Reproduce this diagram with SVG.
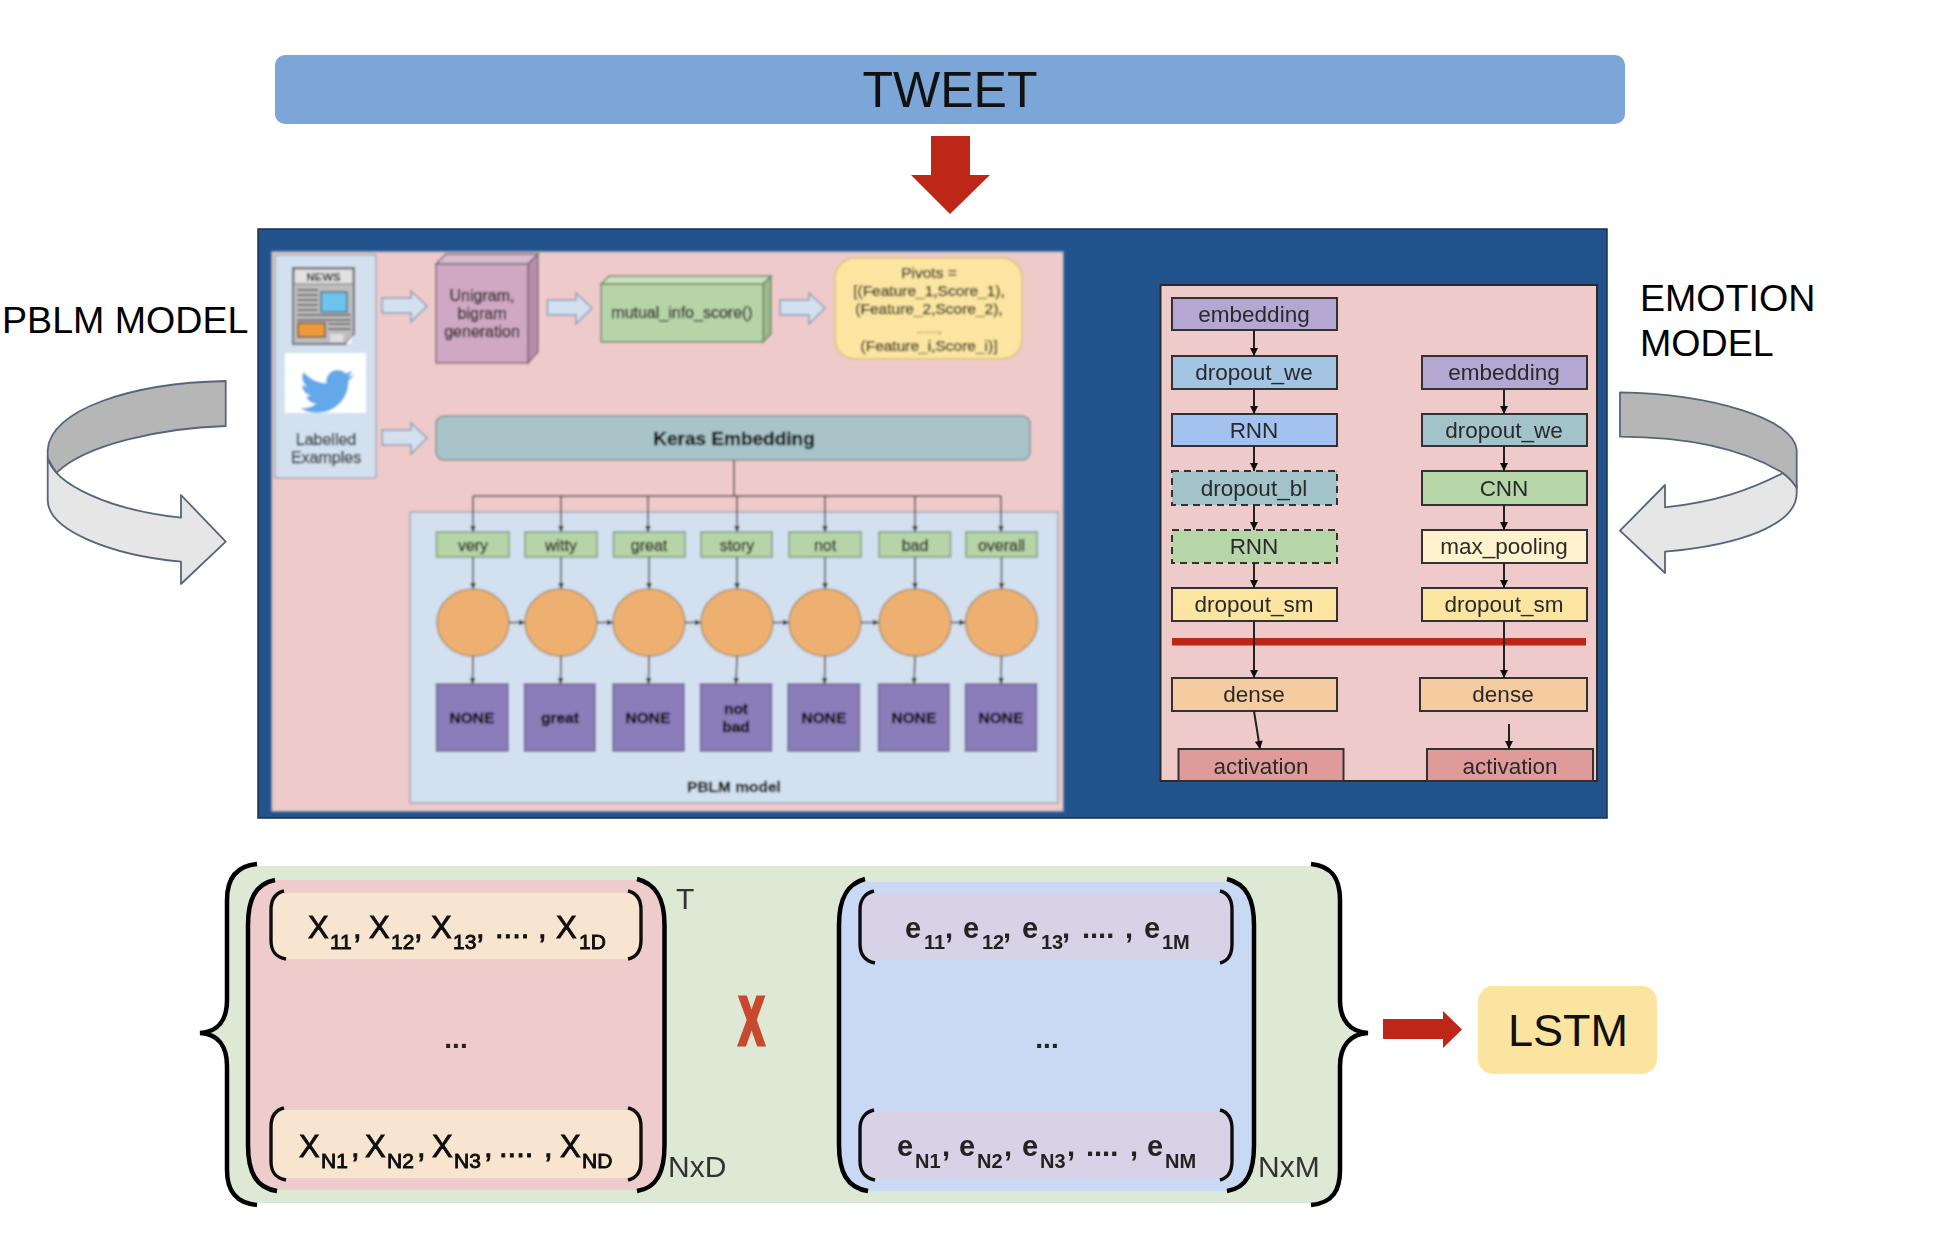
<svg xmlns="http://www.w3.org/2000/svg" width="1942" height="1242" viewBox="0 0 1942 1242">
<style>
text{font-family:"Liberation Sans",Arial,sans-serif;fill:#2c2c2c}
.c{text-anchor:middle}
.b{font-weight:700}
.big{font-size:37.6px;fill:#000}
.t16{font-size:16px;fill:#111;stroke:#111;stroke-width:.25}
.t15{font-size:15.5px;fill:#111;stroke:#111;stroke-width:.25}
.pur{font-size:15.5px;font-weight:700;fill:#000;stroke:#000;stroke-width:.3}
.flow{font-size:22.5px;fill:#2a2a2a}
.blk{fill:#d3e0f0;stroke:#8a9ab0;stroke-width:1.5}
.wbox{fill:#b7d4a8;stroke:#7f9a7a;stroke-width:1.5}
.circ{fill:#edb06f;stroke:#a8906e;stroke-width:1.5}
.pbox{fill:#8b7cba;stroke:#6a6590;stroke-width:1.5}
.fb{stroke:#333;stroke-width:2}
.dash{stroke-dasharray:7 5}
.ln{fill:none;stroke:#444;stroke-width:1.5}
.ar{fill:none;stroke:#222;stroke-width:2}
.paren{fill:none;stroke:#000;stroke-width:4.5}
.paren3{fill:none;stroke:#111;stroke-width:3.4}
.band{stroke:#56657c;stroke-width:1.8;stroke-linejoin:round}
.mx{font-size:31px;fill:#111;stroke:#111;stroke-width:.9}
.mx .s{font-size:21px}
.me{font-size:29px;font-weight:700;fill:#222}
.me .s{font-size:20px}
.dim{font-size:30px;fill:#333}
</style>
<defs>
<marker id="a1" markerUnits="userSpaceOnUse" markerWidth="8" markerHeight="8" refX="7" refY="4" orient="auto"><path d="M1,1 L7,4 L1,7 Z" fill="#333"/></marker>
<marker id="a2" markerUnits="userSpaceOnUse" markerWidth="10" markerHeight="10" refX="9" refY="5" orient="auto"><path d="M1,1 L9,5 L1,9 Z" fill="#111"/></marker>
<filter id="soft" x="-2%" y="-2%" width="104%" height="104%"><feGaussianBlur stdDeviation="0.8"/></filter>
<filter id="soft2" x="-2%" y="-2%" width="104%" height="104%"><feGaussianBlur stdDeviation="0.6"/></filter>
<filter id="soft3" x="-2%" y="-2%" width="104%" height="104%"><feGaussianBlur stdDeviation="0.4"/></filter>
</defs>
<rect width="1942" height="1242" fill="#fff"/>

<g id="tweet">
<rect x="275" y="55" width="1350" height="69" rx="10" fill="#7ca6d8"/>
<text class="c" x="950" y="107" font-size="50" style="fill:#111">TWEET</text>
</g>
<g id="tweet-arrow"><polygon points="931,136 970,136 970,175 990,175 950,214 911,175 931,175" fill="#bd2718"/></g>

<g id="pblm-label"><text class="big" x="2" y="333">PBLM MODEL</text></g>
<g id="emotion-label"><text class="big" x="1640" y="311">EMOTION</text><text class="big" x="1640" y="356">MODEL</text></g>

<g id="curved-left">
<path class="band" fill="#e6e6e6" d="M47.7,458 C55,485 110,510 181,517.7 L181,495 L225.7,541.7 L181,584 L181,561.7 C110,555 47.7,530 47.7,500 Z"/>
<path class="band" fill="#b6b6b6" d="M225.7,381 C130,383 50,410 47.7,450 L47.7,458 C50,463 53,468 56.7,472.7 C85,445 160,428 225.7,426 Z"/>
</g>
<g id="curved-right">
<path class="band" fill="#e6e6e6" d="M1783,473 C1750,490 1715,502 1665,507.3 L1665,485 L1620,530.7 L1665,573 L1665,551.7 C1740,545 1796.7,525 1796.7,493 L1796.7,486 C1793,481 1788,477 1783,473 Z"/>
<path class="band" fill="#b6b6b6" d="M1620,392.3 C1710,394 1794,418 1796.7,450 L1796.7,488 C1793,482 1788,477 1783,473 C1745,450 1690,437 1620,436.7 Z"/>
</g>

<g id="main-panel">
<rect x="258" y="229" width="1349" height="589" fill="#22538d" stroke="#1d3148" stroke-width="1.5"/>
</g>

<g id="pblm-diagram" filter="url(#soft)">
<g id="pblm-bg"><rect x="272" y="252" width="791" height="559" fill="#eecbca" stroke="#b9b4bc" stroke-width="1.5"/></g>
<g id="examples">
<rect x="275" y="255" width="101" height="223" fill="#d3e0f0" stroke="#a0aab8" stroke-width="1.5"/>
<path d="M293,268 H354 V334 L346,344 H293 Z" fill="#bdbdbd" stroke="#6a6a6a" stroke-width="2"/>
<rect x="294" y="269" width="59" height="15" fill="#e2e2e2" stroke="#777"/>
<text class="c b" x="323.500" y="281" font-size="11.500" style="fill:#222">NEWS</text>
<path d="M297,290 H318 M297,295 H318 M297,300 H318 M297,305 H318 M297,310 H318 M297,315 H351 M297,320 H351 M328,324 H351 M328,329 H351" stroke="#707070" stroke-width="2" fill="none"/>
<rect x="321" y="292" width="26" height="20" fill="#6cc4ef" stroke="#4f6f80" stroke-width="1.500"/>
<rect x="298" y="323" width="27" height="14" fill="#ee9a3a" stroke="#6a5a40" stroke-width="1.500"/>
<polygon points="330,334 344,334 343,342 330,342" fill="#dedede"/>
<polygon points="346,344 354,334 350,344" fill="#fff"/>
<rect x="285" y="353" width="81" height="60" fill="#fff"/>
<path transform="translate(300,365) scale(2.25,2.2)" fill="#64a8e8" d="M23.953 4.57a10 10 0 01-2.825.775 4.958 4.958 0 002.163-2.723c-.951.555-2.005.959-3.127 1.184a4.92 4.92 0 00-8.384 4.482C7.69 8.095 4.067 6.13 1.64 3.162a4.822 4.822 0 00-.666 2.475c0 1.71.87 3.213 2.188 4.096a4.904 4.904 0 01-2.228-.616v.06a4.923 4.923 0 003.946 4.827 4.996 4.996 0 01-2.212.085 4.936 4.936 0 004.604 3.417 9.867 9.867 0 01-6.102 2.105c-.39 0-.779-.023-1.17-.067a13.995 13.995 0 007.557 2.209c9.053 0 13.998-7.496 13.998-13.985 0-.21 0-.42-.015-.63A9.935 9.935 0 0024 4.59z"/>
<text class="c t16" x="326" y="445">Labelled</text>
<text class="c t16" x="326" y="463">Examples</text>
</g>
<g id="block-arrows">
<polygon class="blk" points="382,298 411,298 411,291 427,306 411,322 411,313 382,313"/>
<polygon class="blk" points="547.5,300 576,300 576,293 592,308 576,324 576,315 547.5,315"/>
<polygon class="blk" points="780,300 809,300 809,293 825,308 809,324 809,315 780,315"/>
<polygon class="blk" points="382,430 411,430 411,423 427,438 411,454 411,445 382,445"/>
</g>
<g id="unigram">
<polygon points="436,264 446,254 538,254 528,264" fill="#dbb9d0" stroke="#7a6a75" stroke-width="1.5"/>
<polygon points="528,264 538,254 538,352 528,363" fill="#b98dac" stroke="#7a6a75" stroke-width="1.5"/>
<rect x="436" y="264" width="92" height="99" fill="#cfa8c3" stroke="#7a6a75" stroke-width="1.5"/>
<text class="c t16" x="482" y="301">Unigram,</text><text class="c t16" x="482" y="319">bigram</text><text class="c t16" x="482" y="337">generation</text>
</g>
<g id="mutual-info">
<polygon points="601,284 609,276 771,276 763,284" fill="#c9e0bb" stroke="#6f8a6a" stroke-width="1.5"/>
<polygon points="763,284 771,276 771,334 763,342" fill="#9ab98c" stroke="#6f8a6a" stroke-width="1.5"/>
<rect x="601" y="284" width="162" height="58" fill="#b7d4a8" stroke="#6f8a6a" stroke-width="1.5"/>
<text class="c t16" x="682" y="318">mutual_info_score()</text>
</g>
<g id="pivots">
<rect x="835" y="258" width="187" height="101" rx="20" fill="#fce5a0" stroke="#d8c27a" stroke-width="1.5"/>
<text class="c t15" x="929" y="278">Pivots =</text>
<text class="c t15" x="929" y="296">[(Feature_1,Score_1),</text>
<text class="c t15" x="929" y="314">(Feature_2,Score_2),</text>
<text class="c" x="929" y="333" font-size="11" style="fill:#111">.......,</text>
<text class="c t15" x="929" y="351">(Feature_i,Score_i)]</text>
</g>
<g id="keras">
<rect x="436" y="416" width="594" height="44" rx="8" fill="#a9c4c9" stroke="#7d9097" stroke-width="1.5"/>
<text class="c b" x="734" y="445" font-size="19" style="fill:#000;stroke:#000;stroke-width:.3">Keras Embedding</text>
</g>
<g id="pblm-model">
<rect x="410" y="512" width="648" height="291" fill="#d3e0f0" stroke="#a0a6ae" stroke-width="1.5"/>
<text class="c b" x="734" y="792" font-size="15.500" style="fill:#000;stroke:#000;stroke-width:.3">PBLM model</text>
</g>
<g id="w-very"><rect class="wbox" x="436.5" y="532" width="72.500" height="25"/><text class="c t16" x="473" y="551">very</text></g>
<g id="w-witty"><rect class="wbox" x="525" y="532" width="72" height="25"/><text class="c t16" x="561" y="551">witty</text></g>
<g id="w-great"><rect class="wbox" x="613.5" y="532" width="71.500" height="25"/><text class="c t16" x="649" y="551">great</text></g>
<g id="w-story"><rect class="wbox" x="701" y="532" width="71" height="25"/><text class="c t16" x="737" y="551">story</text></g>
<g id="w-not"><rect class="wbox" x="789" y="532" width="72" height="25"/><text class="c t16" x="825" y="551">not</text></g>
<g id="w-bad"><rect class="wbox" x="879" y="532" width="71.500" height="25"/><text class="c t16" x="915" y="551">bad</text></g>
<g id="w-overall"><rect class="wbox" x="966" y="532" width="71" height="25"/><text class="c t16" x="1001.5" y="551">overall</text></g>
<g id="lstm-cell-1"><ellipse class="circ" cx="473" cy="622.500" rx="36" ry="33.500"/></g>
<g id="lstm-cell-2"><ellipse class="circ" cx="561" cy="622.500" rx="36" ry="33.500"/></g>
<g id="lstm-cell-3"><ellipse class="circ" cx="649" cy="622.500" rx="36" ry="33.500"/></g>
<g id="lstm-cell-4"><ellipse class="circ" cx="737" cy="622.500" rx="36" ry="33.500"/></g>
<g id="lstm-cell-5"><ellipse class="circ" cx="825" cy="622.500" rx="36" ry="33.500"/></g>
<g id="lstm-cell-6"><ellipse class="circ" cx="915" cy="622.500" rx="36" ry="33.500"/></g>
<g id="lstm-cell-7"><ellipse class="circ" cx="1001.500" cy="622.500" rx="36" ry="33.500"/></g>
<g id="o-1"><rect class="pbox" x="436.5" y="684" width="71.500" height="67"/><text class="c pur" x="472" y="723">NONE</text></g>
<g id="o-2"><rect class="pbox" x="524.5" y="684" width="70.500" height="67"/><text class="c pur" x="560" y="723">great</text></g>
<g id="o-3"><rect class="pbox" x="613" y="684" width="71" height="67"/><text class="c pur" x="648" y="723">NONE</text></g>
<g id="o-4"><rect class="pbox" x="700.5" y="684" width="71" height="67"/><text class="c pur" x="736" y="714">not</text><text class="c pur" x="736" y="732">bad</text></g>
<g id="o-5"><rect class="pbox" x="788" y="684" width="71.500" height="67"/><text class="c pur" x="824" y="723">NONE</text></g>
<g id="o-6"><rect class="pbox" x="878.5" y="684" width="70.500" height="67"/><text class="c pur" x="914" y="723">NONE</text></g>
<g id="o-7"><rect class="pbox" x="965.500" y="684" width="71" height="67"/><text class="c pur" x="1001" y="723">NONE</text></g>
<g id="pblm-connectors">
<path class="ln" d="M734,460 V496 M473,496 H1001"/>
<path class="ln" marker-end="url(#a1)" d="M473,496 V532"/><path class="ln" marker-end="url(#a1)" d="M561,496 V532"/><path class="ln" marker-end="url(#a1)" d="M648,496 V532"/><path class="ln" marker-end="url(#a1)" d="M737,496 V532"/><path class="ln" marker-end="url(#a1)" d="M825,496 V532"/><path class="ln" marker-end="url(#a1)" d="M915,496 V532"/><path class="ln" marker-end="url(#a1)" d="M1001,496 V532"/>
<path class="ln" marker-end="url(#a1)" d="M473,557 V589"/><path class="ln" marker-end="url(#a1)" d="M561,557 V589"/><path class="ln" marker-end="url(#a1)" d="M649,557 V589"/><path class="ln" marker-end="url(#a1)" d="M737,557 V589"/><path class="ln" marker-end="url(#a1)" d="M825,557 V589"/><path class="ln" marker-end="url(#a1)" d="M915,557 V589"/><path class="ln" marker-end="url(#a1)" d="M1001.500,557 V589"/>
<path class="ln" marker-end="url(#a1)" d="M473,656 L472.500,684"/><path class="ln" marker-end="url(#a1)" d="M561,656 L560.500,684"/><path class="ln" marker-end="url(#a1)" d="M649,656 L648.500,684"/><path class="ln" marker-end="url(#a1)" d="M737,656 L736,684"/><path class="ln" marker-end="url(#a1)" d="M825,656 L824.500,684"/><path class="ln" marker-end="url(#a1)" d="M915,656 L914,684"/><path class="ln" marker-end="url(#a1)" d="M1001.500,656 L1001,684"/>
<path class="ln" marker-end="url(#a1)" d="M509,622.500 H525"/><path class="ln" marker-end="url(#a1)" d="M597,622.500 H613"/><path class="ln" marker-end="url(#a1)" d="M685,622.500 H701"/><path class="ln" marker-end="url(#a1)" d="M773,622.500 H789"/><path class="ln" marker-end="url(#a1)" d="M861,622.500 H879"/><path class="ln" marker-end="url(#a1)" d="M951,622.500 H965.500"/>
</g>
</g>

<g id="emotion-diagram" filter="url(#soft2)">
<g id="emotion-bg"><rect x="1160.500" y="285" width="436.500" height="496" fill="#eecbca" stroke="#2c2c2c" stroke-width="2"/></g>
<g id="e-embedding"><rect class="fb" x="1172" y="298" width="165" height="32" fill="#b4a7d1"/><text class="c flow" x="1254" y="322">embedding</text></g>
<g id="e-dropout-we"><rect class="fb" x="1172" y="356" width="165" height="33" fill="#a3c4e3"/><text class="c flow" x="1254" y="380">dropout_we</text></g>
<g id="e-rnn"><rect class="fb" x="1172" y="414" width="165" height="32" fill="#a4c2ef"/><text class="c flow" x="1254" y="438">RNN</text></g>
<g id="e-dropout-bl"><rect class="fb dash" x="1172" y="471" width="165" height="34" fill="#a2c3c9"/><text class="c flow" x="1254" y="496">dropout_bl</text></g>
<g id="e-rnn2"><rect class="fb dash" x="1172" y="530" width="165" height="33" fill="#b6d6a8"/><text class="c flow" x="1254" y="554">RNN</text></g>
<g id="e-dropout-sm"><rect class="fb" x="1172" y="588" width="165" height="33" fill="#fce5a0"/><text class="c flow" x="1254" y="612">dropout_sm</text></g>
<g id="e-dense"><rect class="fb" x="1172" y="678" width="165" height="33" fill="#f4cc9f"/><text class="c flow" x="1254" y="702">dense</text></g>
<g id="e-activation"><rect class="fb" x="1178.500" y="749" width="165" height="32" fill="#df9a9a"/><text class="c flow" x="1261" y="774">activation</text></g>
<g id="c-embedding"><rect class="fb" x="1422" y="356" width="165" height="33" fill="#b4a7d1"/><text class="c flow" x="1504" y="380">embedding</text></g>
<g id="c-dropout-we"><rect class="fb" x="1422" y="414" width="165" height="32" fill="#a2c3c9"/><text class="c flow" x="1504" y="438">dropout_we</text></g>
<g id="c-cnn"><rect class="fb" x="1422" y="471" width="165" height="34" fill="#b6d6a8"/><text class="c flow" x="1504" y="496">CNN</text></g>
<g id="c-max-pooling"><rect class="fb" x="1422" y="530" width="165" height="33" fill="#fff2cc"/><text class="c flow" x="1504" y="554">max_pooling</text></g>
<g id="c-dropout-sm"><rect class="fb" x="1422" y="588" width="165" height="33" fill="#fce5a0"/><text class="c flow" x="1504" y="612">dropout_sm</text></g>
<g id="c-dense"><rect class="fb" x="1420" y="678" width="167" height="33" fill="#f4cc9f"/><text class="c flow" x="1503" y="702">dense</text></g>
<g id="c-activation"><rect class="fb" x="1427" y="749" width="166" height="32" fill="#df9a9a"/><text class="c flow" x="1510" y="774">activation</text></g>
<g id="merge-bar"><rect x="1172" y="638" width="414" height="7.500" fill="#bd2718"/></g>
<g id="emotion-connectors">
<path class="ar" marker-end="url(#a2)" d="M1254,330 V356"/><path class="ar" marker-end="url(#a2)" d="M1254,389 V414"/><path class="ar" marker-end="url(#a2)" d="M1254,446 V471"/><path class="ar" marker-end="url(#a2)" d="M1254,505 V530"/><path class="ar" marker-end="url(#a2)" d="M1254,563 V588"/><path class="ar" marker-end="url(#a2)" d="M1254,621 V678"/><path class="ar" marker-end="url(#a2)" d="M1254,711 L1260,749"/>
<path class="ar" marker-end="url(#a2)" d="M1504,389 V414"/><path class="ar" marker-end="url(#a2)" d="M1504,446 V471"/><path class="ar" marker-end="url(#a2)" d="M1504,505 V530"/><path class="ar" marker-end="url(#a2)" d="M1504,563 V588"/><path class="ar" marker-end="url(#a2)" d="M1504,621 V678"/><path class="ar" marker-end="url(#a2)" d="M1509,724 V749"/>
</g>
</g>

<g id="bottom-diagram" filter="url(#soft3)">
<g id="matrix-bg"><path fill="#dde8d5" d="M257,866 C235,868 227,880 227,900 L227,1000 C227,1020 218,1032 200,1033 C218,1034 227,1046 227,1066 L227,1170 C227,1190 235,1201 257,1203 L1311,1203 C1333,1201 1340,1190 1340,1170 L1340,1066 C1340,1046 1350,1034 1368,1033 C1350,1032 1340,1020 1340,1000 L1340,900 C1340,880 1333,868 1311,866 Z"/></g>
<g id="brace-left"><path class="paren" d="M257,864 C235,866 227,880 227,900 L227,1000 C227,1020 218,1032 200,1033 C218,1034 227,1046 227,1066 L227,1170 C227,1190 235,1203 257,1205"/></g>
<g id="brace-right"><path class="paren" d="M1311,864 C1333,866 1340,880 1340,900 L1340,1000 C1340,1020 1350,1032 1368,1033 C1350,1034 1340,1046 1340,1066 L1340,1170 C1340,1190 1333,1203 1311,1205"/></g>

<g id="matrix-x">
<path fill="#eecccb" d="M275,880 C255,884 248,900 248,925 L248,1145 C248,1172 256,1186 277,1190 L637,1190 C657,1186 664.500,1172 664.500,1145 L664.500,925 C664.500,900 657,884 637,880 Z"/>
<path fill="#f8e5d0" d="M284,893 C275,894 271,900 271,910 L271,940 C271,951 275,957 286,959 L628,959 C637,957 641,951 641,940 L641,910 C641,900 637,894 628,893 Z"/>
<path fill="#f8e5d0" d="M284,1110 C275,1111 271,1117 271,1127 L271,1161 C271,1172 275,1176 286,1178 L628,1178 C637,1176 641,1172 641,1161 L641,1127 C641,1117 637,1111 628,1110 Z"/>
<path class="paren" d="M275,880 C255,884 248,900 248,925 L248,1145 C248,1172 256,1188 277,1191"/>
<path class="paren" d="M637,879 C657,884 664.500,900 664.500,925 L664.500,1145 C664.500,1172 657,1188 637,1191"/>
<path class="paren3" d="M284,891 C275,893 271,900 271,910 L271,940 C271,951 275,957 286,959"/>
<path class="paren3" d="M628,891 C637,893 641,900 641,910 L641,940 C641,951 637,957 628,959"/>
<path class="paren3" d="M284,1108 C275,1110 271,1117 271,1127 L271,1161 C271,1172 275,1178 286,1180"/>
<path class="paren3" d="M628,1108 C637,1110 641,1117 641,1127 L641,1161 C641,1172 637,1178 628,1180"/>
<text class="mx"><tspan x="308" y="938">X</tspan><tspan class="s" x="330" y="949">11</tspan><tspan x="353" y="938">,</tspan><tspan x="369" y="938">X</tspan><tspan class="s" x="391" y="949">12</tspan><tspan x="414" y="938">,</tspan><tspan x="431" y="938">X</tspan><tspan class="s" x="453" y="949">13</tspan><tspan x="476" y="938">,</tspan><tspan x="495" y="938">....</tspan><tspan x="538" y="938">,</tspan><tspan x="556" y="938">X</tspan><tspan class="s" x="579" y="949">1D</tspan></text>
<text class="c b" x="456" y="1048" font-size="28" style="fill:#222">...</text>
<text class="mx"><tspan x="299" y="1157">X</tspan><tspan class="s" x="321" y="1168">N1</tspan><tspan x="351" y="1157">,</tspan><tspan x="365" y="1157">X</tspan><tspan class="s" x="387" y="1168">N2</tspan><tspan x="417" y="1157">,</tspan><tspan x="432" y="1157">X</tspan><tspan class="s" x="454" y="1168">N3</tspan><tspan x="484" y="1157">,</tspan><tspan x="499" y="1157">....</tspan><tspan x="544" y="1157">,</tspan><tspan x="560" y="1157">X</tspan><tspan class="s" x="582" y="1168">ND</tspan></text>
<text class="dim" x="676" y="909">T</text>
<text class="dim" x="668" y="1177">NxD</text>
</g>

<g id="times"><text class="c b" transform="translate(751.500,1044) scale(.56,1)" font-size="66" style="fill:#c8492f;stroke:#c8492f;stroke-width:5">X</text></g>

<g id="matrix-e">
<path fill="#c9d8f3" d="M865,882 C846,886 839,900 839,925 L839,1145 C839,1172 847,1187 868,1191 L1227,1191 C1247,1187 1254,1172 1254,1145 L1254,925 C1254,900 1247,886 1227,882 Z"/>
<path fill="#d8d2e7" d="M874,893 C865,894 860,900 860,910 L860,944 C860,952 864,958 872,960 L1222,960 C1228,958 1232,952 1232,944 L1232,910 C1232,900 1228,894 1220,893 Z"/>
<path fill="#d8d2e7" d="M874,1112 C865,1113 860,1119 860,1129 L860,1161 C860,1170 864,1176 872,1179 L1222,1179 C1228,1176 1232,1170 1232,1161 L1232,1129 C1232,1119 1228,1113 1220,1112 Z"/>
<path class="paren" d="M865,879 C846,884 839,900 839,925 L839,1145 C839,1172 847,1188 868,1191"/>
<path class="paren" d="M1227,879 C1247,884 1254,900 1254,925 L1254,1145 C1254,1172 1247,1188 1227,1191"/>
<path class="paren3" d="M874,891 C865,893 860,900 860,910 L860,944 C860,955 865,961 875,963"/>
<path class="paren3" d="M1220,891 C1228,893 1232,900 1232,910 L1232,944 C1232,955 1228,961 1220,963"/>
<path class="paren3" d="M874,1110 C865,1112 860,1119 860,1129 L860,1161 C860,1172 865,1178 875,1180"/>
<path class="paren3" d="M1220,1110 C1228,1112 1232,1119 1232,1129 L1232,1161 C1232,1172 1228,1178 1220,1180"/>
<text class="me"><tspan x="905" y="938">e</tspan><tspan class="s" x="924" y="949">11</tspan><tspan x="945" y="938">,</tspan><tspan x="963" y="938">e</tspan><tspan class="s" x="982" y="949">12</tspan><tspan x="1003" y="938">,</tspan><tspan x="1022" y="938">e</tspan><tspan class="s" x="1041" y="949">13</tspan><tspan x="1062" y="938">,</tspan><tspan x="1082" y="938">....</tspan><tspan x="1125" y="938">,</tspan><tspan x="1144" y="938">e</tspan><tspan class="s" x="1162" y="949">1M</tspan></text>
<text class="c b" x="1047" y="1048" font-size="28" style="fill:#222">...</text>
<text class="me"><tspan x="897" y="1156">e</tspan><tspan class="s" x="915" y="1168">N1</tspan><tspan x="942" y="1156">,</tspan><tspan x="959" y="1156">e</tspan><tspan class="s" x="977" y="1168">N2</tspan><tspan x="1004" y="1156">,</tspan><tspan x="1022" y="1156">e</tspan><tspan class="s" x="1040" y="1168">N3</tspan><tspan x="1067" y="1156">,</tspan><tspan x="1086" y="1156">....</tspan><tspan x="1130" y="1156">,</tspan><tspan x="1147" y="1156">e</tspan><tspan class="s" x="1165" y="1168">NM</tspan></text>
<text class="dim" x="1258" y="1177">NxM</text>
</g>
</g>

<g id="connectors"><polygon points="1383,1019 1443,1019 1443,1011 1462,1029.500 1443,1048 1443,1039 1383,1039" fill="#bd2718"/></g>
<g id="lstm">
<rect x="1478" y="986" width="179" height="88" rx="15" fill="#fbe4a0"/>
<text class="c" x="1568" y="1046" font-size="45" style="fill:#111">LSTM</text>
</g>
</svg>
